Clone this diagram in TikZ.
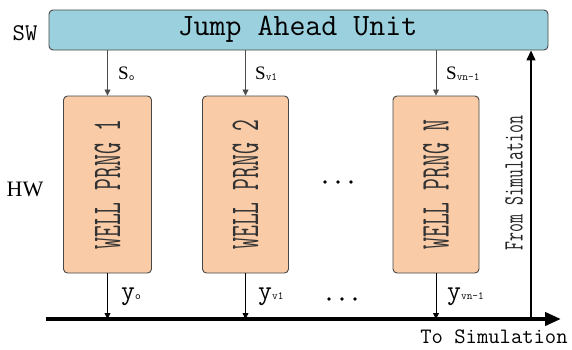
\documentclass[tikz,border=0pt]{standalone}
\usepackage{fontspec}
\usepackage{graphicx}
\setmainfont{Liberation Serif}
\usetikzlibrary{arrows.meta}
\definecolor{jaublue}{RGB}{155,208,222}
\definecolor{prngfill}{RGB}{249,203,166}
\definecolor{edgegray}{RGB}{70,70,70}
\tikzset{
  jau/.style={draw=edgegray, line width=0.9pt, fill=jaublue, rounded corners=4pt},
  prng/.style={draw=edgegray, line width=0.9pt, fill=prngfill, rounded corners=4pt},
  sarrow/.style={draw=black!70, line width=0.8pt, -{Triangle[length=6pt,width=6pt]}},
  yarrow/.style={draw=black, line width=0.8pt, -{Triangle[length=6pt,width=6pt]}},
  lbl/.style={inner sep=0pt, anchor=west},
  dot/.style={fill=black},
}
\newcommand{\slbl}[1]{{\fontsize{19}{19}\selectfont S}\raisebox{-1pt}{\ttfamily\fontsize{11}{11}\selectfont #1}}
\newcommand{\ylbl}[1]{{\ttfamily\fontsize{27}{27}\selectfont y}\raisebox{0pt}{\ttfamily\fontsize{11}{11}\selectfont #1}}
\newcommand{\prngtext}[1]{\scalebox{0.56}[1]{\ttfamily\fontsize{41}{41}\selectfont #1}}
\begin{document}
\begin{tikzpicture}[x=1pt,y=-1pt]
\useasboundingbox (0,0) rectangle (572,349);
% top unit
\node[jau, minimum width=499pt, minimum height=40pt, inner sep=0pt] (jau) at (298.5,30) {};
\node[inner sep=0pt] (jaut) at (297.5,29) {\ttfamily\fontsize{31}{31}\selectfont Jump Ahead Unit};
\node[inner sep=0pt] (sw) at (25,33) {\ttfamily\fontsize{24}{24}\selectfont SW};
\node[inner sep=0pt] (hw) at (25,189) {\fontsize{22}{22}\selectfont HW};
% PRNG boxes
\node[prng, minimum width=88pt, minimum height=177pt, inner sep=0pt] (p1) at (107.5,184.5) {};
\node[prng, minimum width=86pt, minimum height=177pt, inner sep=0pt] (p2) at (245.5,184.5) {};
\node[prng, minimum width=86pt, minimum height=177pt, inner sep=0pt] (pn) at (436,184.5) {};
\node[rotate=90, inner sep=0pt, text=black!80] (t1) at (p1.center) {\prngtext{WELL PRNG 1}};
\node[rotate=90, inner sep=0pt, text=black!80] (t2) at (p2.center) {\prngtext{WELL PRNG 2}};
\node[rotate=90, inner sep=0pt, text=black!80] (tn) at (pn.center) {\prngtext{WELL PRNG N}};
% seed arrows
\draw[sarrow] (jau.south -| p1.north) -- (p1.north);
\draw[sarrow] (jau.south -| p2.north) -- (p2.north);
\draw[sarrow] (jau.south -| pn.north) -- (pn.north);
\node[lbl] (s0) at (118,74) {\slbl{o}};
\node[lbl] (s1) at (255,74) {\slbl{v1}};
\node[lbl] (sn) at (446,74) {\slbl{vn-1}};
% bus
\coordinate (busL) at (46,319);
\coordinate (busR) at (561,319);
\draw[line width=4pt, -{Triangle[length=16pt,width=13pt]}] (busL) -- (busR);
% output arrows
\draw[yarrow] (p1.south) -- (p1.south |- busL);
\draw[yarrow] (p2.south) -- (p2.south |- busL);
\draw[yarrow] (pn.south) -- (pn.south |- busL);
\node[lbl] (y0) at (121,297) {\ylbl{o}};
\node[lbl] (y1) at (258,297) {\ylbl{v1}};
\node[lbl] (yn) at (447,297) {\ylbl{vn-1}};
% dots
\foreach \x in {325,338,351} \fill[dot] (\x,182) circle (1.9pt);
\foreach \x in {329,342,355} \fill[dot] (\x,299) circle (1.9pt);
% from simulation
\coordinate (fsB) at (531,319);
\draw[line width=1.3pt, -{Triangle[length=10pt,width=9pt]}] (fsB) -- (fsB |- jau.south);
\node[rotate=90, inner sep=0pt, text=black!85] (fs) at (514,183) {\scalebox{0.62}[1]{\ttfamily\fontsize{28}{28}\selectfont From Simulation}};
\node[inner sep=0pt] (ts) at (494,337) {\ttfamily\fontsize{22}{22}\selectfont To Simulation};
\end{tikzpicture}
\end{document}
